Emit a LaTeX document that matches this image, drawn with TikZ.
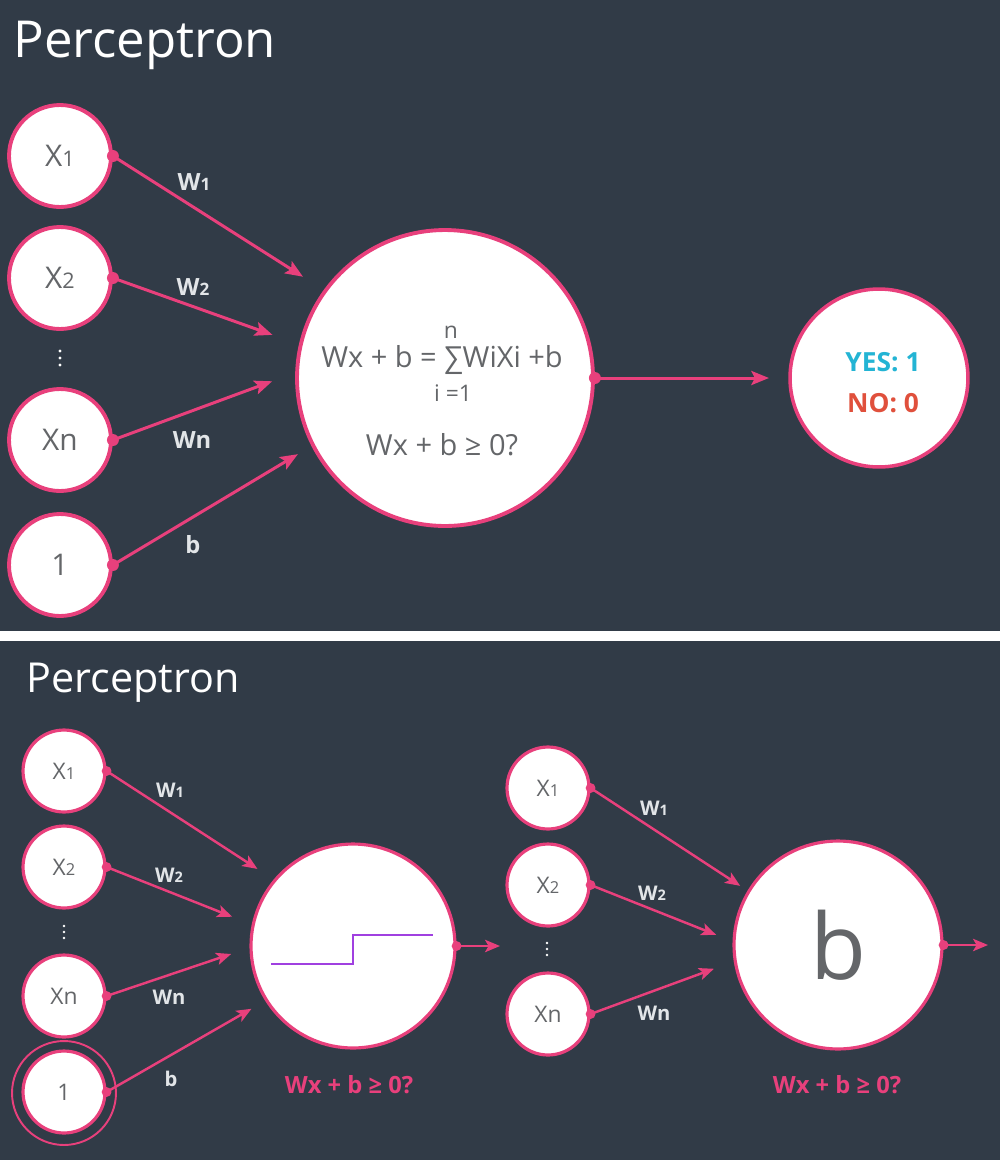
\documentclass[tikz,border=0pt]{standalone}
\usepackage{fontspec}
\setmainfont{Open Sans}
\usetikzlibrary{arrows.meta}
\definecolor{pozadina}{HTML}{313B47}
\definecolor{ruzicasta}{HTML}{E8407C}
\definecolor{ljubicasta}{HTML}{A040E0}
\definecolor{siva}{HTML}{646669}
\definecolor{svetla}{HTML}{E2E5E8}
\definecolor{plava}{HTML}{23B4D4}
\definecolor{crvena}{HTML}{E0503C}
\newcommand\malibroj[1]{\scalebox{0.72}{#1}}

\begin{document}
\begin{tikzpicture}[x=0.02cm, y=-0.02cm,
  inp/.style={circle, draw=ruzicasta, fill=white, line width=2.2pt, minimum size=2.04cm,
              inner sep=0pt, text=siva, font=\fontsize{17}{20}\selectfont},
  sinp/.style={inp, line width=1.8pt, minimum size=1.64cm, font=\fontsize{13}{16}\selectfont},
  neuron/.style={circle, draw=ruzicasta, fill=white, line width=2.2pt, inner sep=0pt, text=siva},
  conn/.style={draw=ruzicasta, line width=1.7pt, -{Stealth[length=10pt,width=8pt,inset=2pt]}},
  sconn/.style={conn, line width=1.4pt, -{Stealth[length=8.5pt,width=7pt,inset=2pt]}},
  wlbl/.style={text=svetla, font=\fontsize{13.5}{16}\selectfont\bfseries},
  swlbl/.style={wlbl, font=\fontsize{11.5}{14}\selectfont\bfseries},
  formula/.style={text=siva, font=\fontsize{16.5}{20}\selectfont},
  title/.style={anchor=base west, text=white, inner sep=0pt}
]
\useasboundingbox (0,0) rectangle (1000,1160);
\fill[white] (0,0) rectangle (1000,1160);
\fill[pozadina] (0,0) rectangle (1000,631);
\fill[pozadina] (0,641) rectangle (1000,1160);

% gornji deo
\node[title, font=\fontsize{29}{35}\selectfont] (naslov1) at (13,57) {Perceptron};

\node[inp] (x1) at (60,156) {X\malibroj{1}};
\node[inp] (x2) at (60,278) {X\malibroj{2}};
\fill[white] (60,351) circle (1.7) (60,358) circle (1.7) (60,365) circle (1.7);
\node[inp] (xn) at (60,440) {Xn};
\node[inp] (one) at (60,565) {1};

\node[neuron, minimum size=5.92cm] (sum) at (445,378) {};
\node[formula, anchor=base] (f1) at (442,367) {Wx + b = ∑WiXi +b};
\node[formula, font=\fontsize{13}{15}\selectfont] (f1n) at (451,332) {n};
\node[formula, font=\fontsize{13}{15}\selectfont] (f1i) at (453,393) {i =1};
\node[formula, anchor=base] (f2) at (442,455) {Wx + b ≥ 0?};

\node[neuron, minimum size=3.56cm, line width=2pt] (out) at (879,378) {};
\node[text=plava, font=\fontsize{15}{18}\selectfont\bfseries] (yes) at (883,362) {YES: 1};
\node[text=crvena, font=\fontsize{15}{18}\selectfont\bfseries] (no) at (883,403) {NO: 0};

\draw[conn, shorten >=14pt] (x1.east) -- (sum.144);
\draw[conn, shorten >=16pt] (x2.east) -- (sum.167);
\draw[conn, shorten >=14pt] (xn.east) -- (sum.178);
\draw[conn, shorten >=9pt] (one.east) -- (sum.207);
\draw[conn, shorten >=11pt] (sum.east) -- (out.west);
\fill[ruzicasta] (x1.east) circle (3.4pt);
\fill[ruzicasta] (x2.east) circle (3.4pt);
\fill[ruzicasta] (xn.east) circle (3.4pt);
\fill[ruzicasta] (one.east) circle (3.4pt);
\fill[ruzicasta] (sum.east) circle (3.4pt);

\node[wlbl] (w1) at (194,182) {W\malibroj{1}};
\node[wlbl] (w2) at (193,287) {W\malibroj{2}};
\node[wlbl] (wn) at (192,440) {Wn};
\node[wlbl] (wb) at (193,545) {b};

% donji deo
\node[title, font=\fontsize{23.5}{28}\selectfont] (naslov2) at (26,692) {Perceptron};

\node[sinp] (bx1) at (64,771) {X\malibroj{1}};
\node[sinp] (bx2) at (64,867) {X\malibroj{2}};
\fill[white] (64,926) circle (1.4) (64,932) circle (1.4) (64,938) circle (1.4);
\node[sinp] (bxn) at (64,996) {Xn};
\node[sinp] (bone) at (64,1092) {1};
\node[circle, draw=ruzicasta, line width=1.1pt, minimum size=2.08cm] (prsten) at (64,1093) {};

\node[neuron, line width=1.8pt, minimum size=4.08cm] (step) at (353,946) {};
\draw[ljubicasta, line width=1.6pt] (271,964) -- (353,964) -- (353,935) -- (433,935);
\coordinate (sout) at (500,946);

\draw[sconn, shorten >=11pt] (bx1.east) -- (step.140);
\draw[sconn, shorten >=12pt] (bx2.east) -- (step.168);
\draw[sconn, shorten >=11pt] (bxn.east) -- (step.181);
\draw[sconn, shorten >=9pt] (bone.east) -- (step.212);
\draw[sconn] (step.east) -- (sout);
\fill[ruzicasta] (bx1.east) circle (2.8pt);
\fill[ruzicasta] (bx2.east) circle (2.8pt);
\fill[ruzicasta] (bxn.east) circle (2.8pt);
\fill[ruzicasta] (bone.east) circle (2.8pt);
\fill[ruzicasta] (step.east) circle (2.8pt);

\node[swlbl] (bw1) at (170,790) {W\malibroj{1}};
\node[swlbl] (bw2) at (169,875) {W\malibroj{2}};
\node[swlbl] (bwn) at (169,997) {Wn};
\node[swlbl] (bwb) at (171,1079) {b};
\node[text=ruzicasta, font=\fontsize{13.5}{16}\selectfont\bfseries] (uslov1) at (349,1085) {Wx + b ≥ 0?};

\node[sinp] (cx1) at (548,788) {X\malibroj{1}};
\node[sinp] (cx2) at (548,885) {X\malibroj{2}};
\fill[white] (547,943) circle (1.4) (547,949) circle (1.4) (547,955) circle (1.4);
\node[sinp] (cxn) at (548,1014) {Xn};

\node[neuron, line width=1.8pt, minimum size=4.16cm, font=\fontsize{52}{58}\selectfont] (bias) at (838,945) {b};
\coordinate (bout) at (988,945);

\draw[sconn, shorten >=5pt] (cx1.east) -- (bias.149);
\draw[sconn, shorten >=10pt] (cx2.east) -- (bias.178);
\draw[sconn, shorten >=12pt] (cxn.east) -- (bias.189);
\draw[sconn] (bias.east) -- (bout);
\fill[ruzicasta] (cx1.east) circle (2.8pt);
\fill[ruzicasta] (cx2.east) circle (2.8pt);
\fill[ruzicasta] (cxn.east) circle (2.8pt);
\fill[ruzicasta] (bias.east) circle (2.8pt);

\node[swlbl] (cw1) at (654,808) {W\malibroj{1}};
\node[swlbl] (cw2) at (652,893) {W\malibroj{2}};
\node[swlbl] (cwn) at (654,1013) {Wn};
\node[text=ruzicasta, font=\fontsize{13.5}{16}\selectfont\bfseries] (uslov2) at (837,1085) {Wx + b ≥ 0?};
\end{tikzpicture}
\end{document}
